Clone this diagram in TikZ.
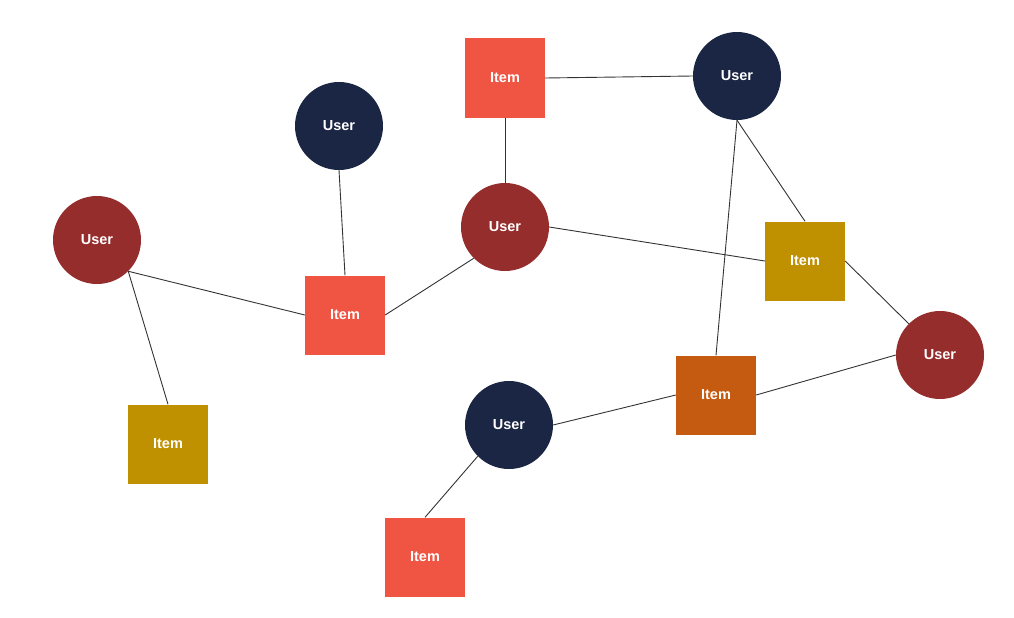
\documentclass[tikz,border=0pt]{standalone}
\usepackage{fontspec}
\setmainfont{Liberation Sans}
\definecolor{navy}{HTML}{1B2644}
\definecolor{wine}{HTML}{962D2D}
\definecolor{salmon}{HTML}{F05442}
\definecolor{gold}{HTML}{BF9000}
\definecolor{rust}{HTML}{C55A11}
\definecolor{edgegray}{HTML}{333333}
\begin{document}
\begin{tikzpicture}[x=1pt,y=-1pt,
  label font/.style={font=\fontsize{14.5}{16}\selectfont\bfseries},
  user/.style={circle,minimum size=88pt,inner sep=0pt,text=white,label font},
  item/.style={rectangle,minimum width=80pt,minimum height=79pt,inner sep=0pt,text=white,label font},
  link/.style={draw=edgegray,line width=0.9pt}]
\useasboundingbox (0,0) rectangle (1014,618);
% users
\node[user,fill=navy] (uB) at (737,76) {User};
\node[user,fill=navy] (uF) at (339,126) {User};
\node[user,fill=wine] (uH) at (97,240) {User};
\node[user,fill=wine] (uC) at (505,227) {User};
\node[user,fill=wine] (uJ) at (940,355) {User};
\node[user,fill=navy] (uK) at (509,425) {User};
% items
\node[item,fill=salmon] (iA) at (505,78) {Item};
\node[item,fill=gold] (iD) at (805,261) {Item};
\node[item,fill=salmon] (iG) at (345,315) {Item};
\node[item,fill=rust] (iE) at (716,395) {Item};
\node[item,fill=gold] (iI) at (168,444) {Item};
\node[item,fill=salmon] (iL) at (425,557) {Item};
% links
\draw[link] (iA.east) -- (uB.west);
\draw[link] (iA.south) -- (uC.north);
\draw[link] (uB.south) -- (iD.north);
\draw[link] (uB.south) -- (iE.north);
\draw[link] (uF.south) -- (iG.north);
\draw[link] (uH.-45) -- (iG.west);
\draw[link] (uH.-45) -- (iI.north);
\draw[link] (uC.-135) -- (iG.east);
\draw[link] (uC.east) -- (iD.west);
\draw[link] (iD.east) -- (uJ.135);
\draw[link] (uJ.west) -- (iE.east);
\draw[link] (iE.west) -- (uK.east);
\draw[link] (uK.-135) -- (iL.north);
\end{tikzpicture}
\end{document}
